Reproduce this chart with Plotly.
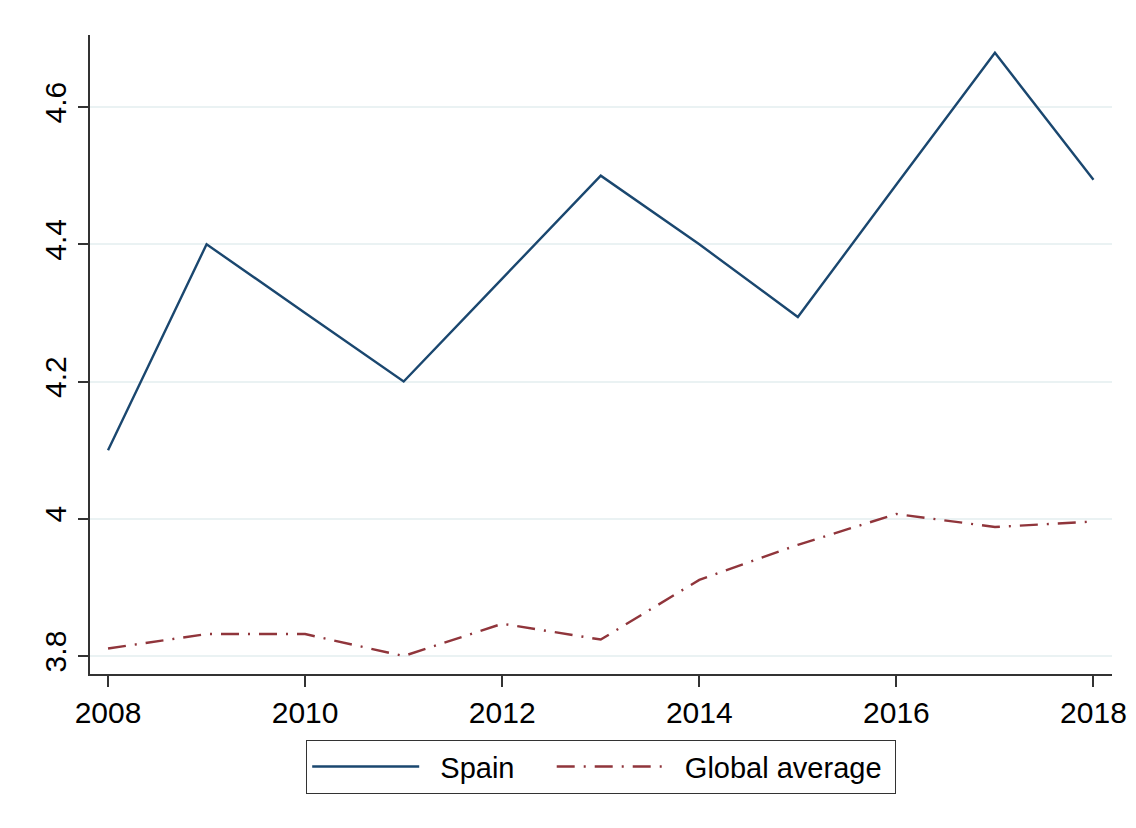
import plotly.graph_objects as go

years = [2008, 2009, 2010, 2011, 2012, 2013, 2014, 2015, 2016, 2017, 2018]
spain = [4.10, 4.40, 4.30, 4.20, 4.35, 4.50, 4.40, 4.294, 4.487, 4.679, 4.494]
global_avg = [3.811, 3.832, 3.832, 3.800, 3.847, 3.824, 3.911, 3.962, 4.007, 3.988, 3.996]
series_names = ["Spain", "Global average"]
y_ticks = [3.8, 4.0, 4.2, 4.4, 4.6]
y_labels = ["3.8", "4", "4.2", "4.4", "4.6"]
x_ticks = [2008, 2010, 2012, 2014, 2016, 2018]

FONT = "Liberation Sans, Arial, sans-serif"
NB = "\u00a0"

fig = go.Figure()
fig.add_trace(go.Scatter(x=years, y=spain, mode="lines",
                         name=NB * 2 + series_names[0] + NB * 4,
                         line=dict(color="#1a476f", width=2.4)))
fig.add_trace(go.Scatter(x=years, y=global_avg, mode="lines",
                         name=NB * 2 + series_names[1] + NB,
                         line=dict(color="#90353b", width=2.4, dash="18px,9px,2px,9px")))

fig.update_layout(
    width=1120, height=812,
    margin=dict(l=82, r=16, t=27, b=146, autoexpand=False),
    paper_bgcolor="white", plot_bgcolor="white",
    font=dict(family=FONT, size=30, color="black"),
    showlegend=True,
    legend=dict(orientation="h", x=0.5, xanchor="center", y=-0.1033, yanchor="top",
                bordercolor="#333333", borderwidth=1.2, font=dict(size=29),
                itemwidth=107, bgcolor="white"),
)
fig.update_xaxes(range=[2007.817, 2018.188], tickvals=x_ticks, ticks="outside",
                 ticklen=11, tickwidth=1.5, tickcolor="#333333",
                 showline=True, linecolor="#333333", linewidth=1.5, automargin=False,
                 showgrid=False, zeroline=False, tickfont=dict(size=30))
fig.update_yaxes(range=[3.7738, 4.705], tickvals=y_ticks, ticktext=y_labels,
                 ticks="outside", ticklen=10, tickwidth=1.5, tickcolor="#333333",
                 showline=True, linecolor="#333333", linewidth=1.5, automargin=False,
                 showgrid=True, gridcolor="#eaf2f3", gridwidth=1.5,
                 zeroline=False, tickangle=-90, tickfont=dict(size=30))

fig.write_html("out.html")
